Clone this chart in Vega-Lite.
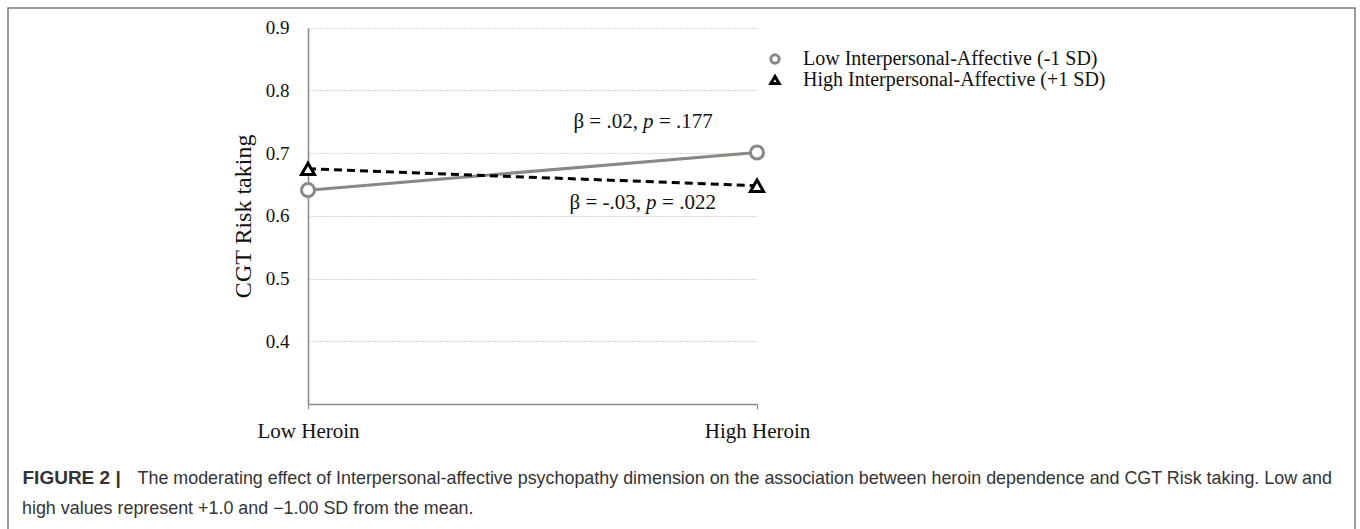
{
  "$schema": "https://vega.github.io/schema/vega-lite/v6.json",
  "width": 1347,
  "height": 530,
  "autosize": {"type": "none"},
  "padding": {"left": 8, "top": 8, "right": 5, "bottom": 0},
  "background": "white",
  "config": {
    "view": {"stroke": "#7a7a7a", "strokeWidth": 1.5},
    "font": "Liberation Serif"
  },
  "title": {
    "text": "high values represent +1.0 and \u22121.00 SD from the mean.",
    "orient": "top",
    "anchor": "start",
    "frame": "group",
    "baseline": "alphabetic",
    "offset": 0,
    "dx": 14,
    "dy": 524,
    "font": "Liberation Sans",
    "fontSize": 17.9,
    "fontWeight": "normal",
    "color": "#333333"
  },
  "datasets": {
    "series": [
      {"heroin": 0, "group": "Low Interpersonal-Affective (-1 SD)", "risk": 0.641},
      {"heroin": 1, "group": "Low Interpersonal-Affective (-1 SD)", "risk": 0.701},
      {"heroin": 0, "group": "High Interpersonal-Affective (+1 SD)", "risk": 0.675},
      {"heroin": 1, "group": "High Interpersonal-Affective (+1 SD)", "risk": 0.648}
    ],
    "notes": [
      {"heroin": 0.746, "risk": 0.75, "pre": "β = .02,", "p": "p", "post": "= .177"},
      {"heroin": 0.753, "risk": 0.62, "pre": "β = -.03,", "p": "p", "post": "= .022"}
    ]
  },
  "encoding": {
    "y": {
      "field": "risk",
      "type": "quantitative",
      "scale": {"domain": [0.3, 0.9], "range": [396, 19.7], "nice": false, "zero": false},
      "axis": {
        "orient": "left",
        "offset": -300,
        "values": [0.4, 0.5, 0.6, 0.7, 0.8, 0.9],
        "format": ".1f",
        "ticks": false,
        "labelPadding": 19,
        "labelFont": "Liberation Serif",
        "labelFontSize": 19,
        "labelColor": "#111111",
        "domainColor": "#888888",
        "domainWidth": 1.5,
        "grid": true,
        "gridColor": "#b0b0b0",
        "gridDash": [1, 2],
        "gridWidth": 1,
        "title": "CGT Risk taking",
        "titleFont": "Liberation Serif",
        "titleFontSize": 24,
        "titleFontWeight": "normal",
        "titleColor": "#111111",
        "titlePadding": 10
      }
    }
  },
  "resolve": {"axis": {"x": "independent"}},
  "layer": [
    {
      "data": {"name": "series"},
      "transform": [{"filter": "datum.group == 'Low Interpersonal-Affective (-1 SD)'"}],
      "mark": {"type": "line", "strokeWidth": 3, "strokeCap": "butt", "stroke": "#8b8783"},
      "encoding": {
        "x": {
          "field": "heroin",
          "type": "quantitative",
          "scale": {"domain": [0, 1], "range": [300, 749], "nice": false, "zero": false},
          "axis": {
            "orient": "bottom",
            "offset": -134,
            "values": [0, 1],
            "labelExpr": "datum.value == 0 ? 'Low Heroin' : 'High Heroin'",
            "labelFlush": false,
            "tickSize": 5,
            "tickColor": "#888888",
            "tickWidth": 1,
            "domainColor": "#888888",
            "domainWidth": 1.5,
            "labelFont": "Liberation Serif",
            "labelFontSize": 21,
            "labelColor": "#111111",
            "labelPadding": 11,
            "grid": false,
            "title": "FIGURE 2 |",
            "titleFont": "Liberation Sans",
            "titleFontSize": 19,
            "titleFontWeight": "bold",
            "titleColor": "#333333",
            "titleX": 14,
            "titleY": 79,
            "titleAlign": "left",
            "titleBaseline": "alphabetic"
          }
        }
      }
    },
    {
      "data": {"name": "series"},
      "transform": [{"filter": "datum.group == 'High Interpersonal-Affective (+1 SD)'"}],
      "mark": {"type": "line", "strokeWidth": 3, "strokeCap": "butt", "stroke": "#000000", "strokeDash": [8, 5]},
      "encoding": {
        "x": {"field": "heroin", "type": "quantitative", "axis": null}
      }
    },
    {
      "data": {"name": "series"},
      "mark": {"type": "point", "filled": true, "fill": "white", "strokeWidth": 3, "size": 170, "opacity": 1},
      "encoding": {
        "x": {
          "field": "heroin",
          "type": "quantitative",
          "axis": {
            "orient": "bottom",
            "offset": -134,
            "domain": false,
            "ticks": false,
            "labels": false,
            "grid": false,
            "title": "The moderating effect of Interpersonal-affective psychopathy dimension on the association between heroin dependence and CGT Risk taking. Low and",
            "titleFont": "Liberation Sans",
            "titleFontSize": 17.9,
            "titleFontWeight": "normal",
            "titleColor": "#333333",
            "titleLimit": 3000,
            "titleX": 129,
            "titleY": 79,
            "titleAlign": "left",
            "titleBaseline": "alphabetic"
          }
        },
        "stroke": {
          "field": "group",
          "type": "nominal",
          "scale": {
            "domain": ["Low Interpersonal-Affective (-1 SD)", "High Interpersonal-Affective (+1 SD)"],
            "range": ["#8b8783", "#000000"]
          },
          "legend": {
            "orient": "none",
            "legendX": 757,
            "legendY": 41,
            "title": null,
            "padding": 0,
            "labelFont": "Liberation Serif",
            "labelFontSize": 20,
            "labelColor": "#111111",
            "labelOffset": 18,
            "labelLimit": 0,
            "rowPadding": -3,
            "symbolSize": 70,
            "symbolStrokeWidth": 3,
            "symbolFillColor": "white"
          }
        },
        "shape": {
          "field": "group",
          "type": "nominal",
          "scale": {
            "domain": ["Low Interpersonal-Affective (-1 SD)", "High Interpersonal-Affective (+1 SD)"],
            "range": ["circle", "triangle-up"]
          },
          "legend": {
            "orient": "none",
            "legendX": 757,
            "legendY": 41,
            "title": null,
            "padding": 0,
            "labelFont": "Liberation Serif",
            "labelFontSize": 20,
            "labelColor": "#111111",
            "labelOffset": 18,
            "labelLimit": 0,
            "rowPadding": -3,
            "symbolSize": 70,
            "symbolStrokeWidth": 3,
            "symbolFillColor": "white"
          }
        }
      }
    },
    {
      "data": {"name": "notes"},
      "mark": {"type": "text", "align": "right", "baseline": "middle", "dx": -5, "font": "Liberation Serif", "fontSize": 21, "color": "#111111"},
      "encoding": {
        "x": {"field": "heroin", "type": "quantitative", "axis": null},
        "text": {"field": "pre"}
      }
    },
    {
      "data": {"name": "notes"},
      "mark": {"type": "text", "align": "left", "baseline": "middle", "font": "Liberation Serif", "fontStyle": "italic", "fontSize": 21, "color": "#111111"},
      "encoding": {
        "x": {"field": "heroin", "type": "quantitative", "axis": null},
        "text": {"field": "p"}
      }
    },
    {
      "data": {"name": "notes"},
      "mark": {"type": "text", "align": "left", "baseline": "middle", "dx": 16, "font": "Liberation Serif", "fontSize": 21, "color": "#111111"},
      "encoding": {
        "x": {"field": "heroin", "type": "quantitative", "axis": null},
        "text": {"field": "post"}
      }
    }
  ]
}
